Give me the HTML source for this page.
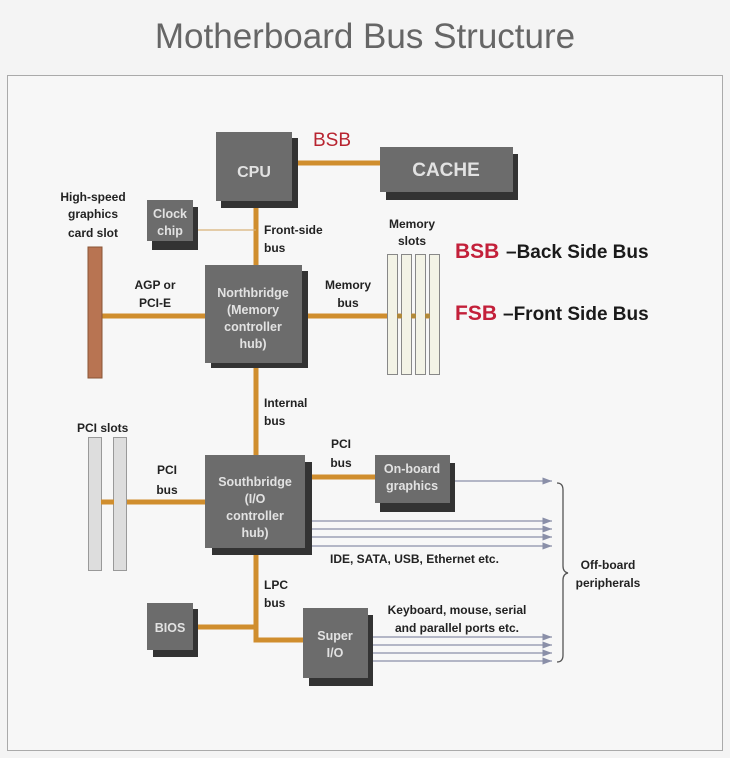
<!DOCTYPE html>
<html><head><style>
html,body{margin:0;padding:0;background:#f4f4f4;}
svg{display:block;}
.l{font-family:"Liberation Sans",sans-serif;font-size:12px;font-weight:bold;fill:#222;}
.b{font-family:"Liberation Sans",sans-serif;font-size:12.5px;font-weight:bold;fill:#e2e2e2;text-anchor:middle;}
.o{stroke:#d08e2e;stroke-width:5;fill:none;}
.a{stroke:#8a8fa8;stroke-width:1.2;fill:none;}
</style></head><body>
<svg width="730" height="758" viewBox="0 0 730 758" xmlns="http://www.w3.org/2000/svg">
<rect x="0" y="0" width="730" height="758" fill="#f4f4f4"/>
<text x="365" y="48" text-anchor="middle" font-family="Liberation Sans,sans-serif" font-size="35" fill="#666">Motherboard Bus Structure</text>
<rect x="7.5" y="75.5" width="715" height="675" fill="#f7f7f7" stroke="#aaa" stroke-width="1"/>
<defs><marker id="ar" markerWidth="8" markerHeight="6" refX="8" refY="3" orient="auto"><path d="M0,0 L8,3 L0,6 z" fill="#8a8fa8"/></marker></defs>
<path class="o" d="M292 163 H380"/>
<path class="o" d="M256 200 V265"/>
<line x1="193" y1="230" x2="256" y2="230" stroke="#d8b27a" stroke-width="1.2"/>
<path class="o" d="M102 316 H205"/>
<path class="o" d="M302 316 H440"/>
<path class="o" d="M256 363 V455"/>
<path class="o" d="M88 502 H205"/>
<path class="o" d="M305 477 H375"/>
<path class="o" d="M256 548 V640 H303"/>
<path class="o" d="M198 627 H256"/>
<g class="a" marker-end="url(#ar)">
<path d="M450 481 H552"/>
<path d="M310 521 H552"/><path d="M310 529 H552"/><path d="M310 537 H552"/><path d="M310 546 H552"/>
<path d="M368 637 H552"/><path d="M368 645 H552"/><path d="M368 653 H552"/><path d="M368 661 H552"/>
</g>
<path d="M557 483 Q563 483 563 490 V566 Q563 572 568 573 Q563 574 563 580 V655 Q563 662 557 662" fill="none" stroke="#555" stroke-width="1.3"/>
<g fill="#333">
<rect x="221" y="138" width="77" height="70"/>
<rect x="386" y="154" width="132" height="46"/>
<rect x="152" y="207" width="46" height="43"/>
<rect x="211" y="271" width="97" height="97"/>
<rect x="212" y="462" width="100" height="93"/>
<rect x="380" y="463" width="75" height="49"/>
<rect x="153" y="609" width="45" height="48"/>
<rect x="309" y="615" width="64" height="71"/>
</g>
<g fill="#6c6c6c">
<rect x="216" y="132" width="76" height="69"/>
<rect x="380" y="147" width="133" height="45"/>
<rect x="147" y="200" width="46" height="41"/>
<rect x="205" y="265" width="97" height="98"/>
<rect x="205" y="455" width="100" height="93"/>
<rect x="375" y="455" width="75" height="48"/>
<rect x="147" y="603" width="46" height="47"/>
<rect x="303" y="608" width="65" height="70"/>
</g>
<text class="b" x="254" y="177" style="font-size:16px">CPU</text>
<text class="b" x="446" y="176" style="font-size:19px">CACHE</text>
<text class="b" x="170" y="218">Clock</text><text class="b" x="170" y="235">chip</text>
<text class="b" x="253" y="297">Northbridge</text><text class="b" x="253" y="314">(Memory</text><text class="b" x="253" y="331">controller</text><text class="b" x="253" y="348">hub)</text>
<text class="b" x="255" y="486">Southbridge</text><text class="b" x="255" y="503">(I/O</text><text class="b" x="255" y="520">controller</text><text class="b" x="255" y="537">hub)</text>
<text class="b" x="412" y="473">On-board</text><text class="b" x="412" y="490">graphics</text>
<text class="b" x="170" y="632">BIOS</text>
<text class="b" x="335" y="640">Super</text><text class="b" x="335" y="657">I/O</text>
<rect x="88" y="247" width="14" height="131" fill="#b87452" stroke="#8a5535"/>
<rect x="88.5" y="437.5" width="13" height="133" fill="#ddd" stroke="#999"/>
<rect x="113.5" y="437.5" width="13" height="133" fill="#ddd" stroke="#999"/>
<path class="o" d="M101 502 H114"/>
<g fill="#f3f3e6" stroke="#888" stroke-width="1">
<rect x="387.5" y="254.5" width="10" height="120"/>
<rect x="401.5" y="254.5" width="10" height="120"/>
<rect x="415.5" y="254.5" width="10" height="120"/>
<rect x="429.5" y="254.5" width="10" height="120"/>
</g>
<path d="M397 316 H402 M411 316 H416 M425 316 H430" stroke="#b0893a" stroke-width="4"/>
<text x="313" y="146" font-family="Liberation Sans,sans-serif" font-size="19" fill="#b82430">BSB</text>
<text class="l" x="93" y="201" text-anchor="middle">High-speed</text>
<text class="l" x="93" y="218" text-anchor="middle">graphics</text>
<text class="l" x="93" y="237" text-anchor="middle">card slot</text>
<text class="l" x="264" y="234">Front-side</text><text class="l" x="264" y="252">bus</text>
<text class="l" x="155" y="289" text-anchor="middle">AGP or</text><text class="l" x="155" y="307" text-anchor="middle">PCI-E</text>
<text class="l" x="348" y="289" text-anchor="middle">Memory</text><text class="l" x="348" y="307" text-anchor="middle">bus</text>
<text class="l" x="412" y="228" text-anchor="middle">Memory</text><text class="l" x="412" y="245" text-anchor="middle">slots</text>
<text x="455" y="258" font-family="Liberation Sans,sans-serif" font-size="21" font-weight="bold" fill="#c3203a">BSB</text>
<text x="506" y="258" font-family="Liberation Sans,sans-serif" font-size="19" font-weight="bold" fill="#1a1a1a">–Back Side Bus</text>
<text x="455" y="320" font-family="Liberation Sans,sans-serif" font-size="21" font-weight="bold" fill="#c3203a">FSB</text>
<text x="503" y="320" font-family="Liberation Sans,sans-serif" font-size="19" font-weight="bold" fill="#1a1a1a">–Front Side Bus</text>
<text class="l" x="264" y="407">Internal</text><text class="l" x="264" y="425">bus</text>
<text class="l" x="77" y="432">PCI slots</text>
<text class="l" x="167" y="474" text-anchor="middle">PCI</text><text class="l" x="167" y="494" text-anchor="middle">bus</text>
<text class="l" x="341" y="448" text-anchor="middle">PCI</text><text class="l" x="341" y="467" text-anchor="middle">bus</text>
<text class="l" x="330" y="563">IDE, SATA, USB, Ethernet etc.</text>
<text class="l" x="608" y="569" text-anchor="middle">Off-board</text><text class="l" x="608" y="587" text-anchor="middle">peripherals</text>
<text class="l" x="264" y="589">LPC</text><text class="l" x="264" y="607">bus</text>
<text class="l" x="457" y="614" text-anchor="middle">Keyboard, mouse, serial</text>
<text class="l" x="457" y="632" text-anchor="middle">and parallel ports etc.</text>
</svg>
</body></html>
